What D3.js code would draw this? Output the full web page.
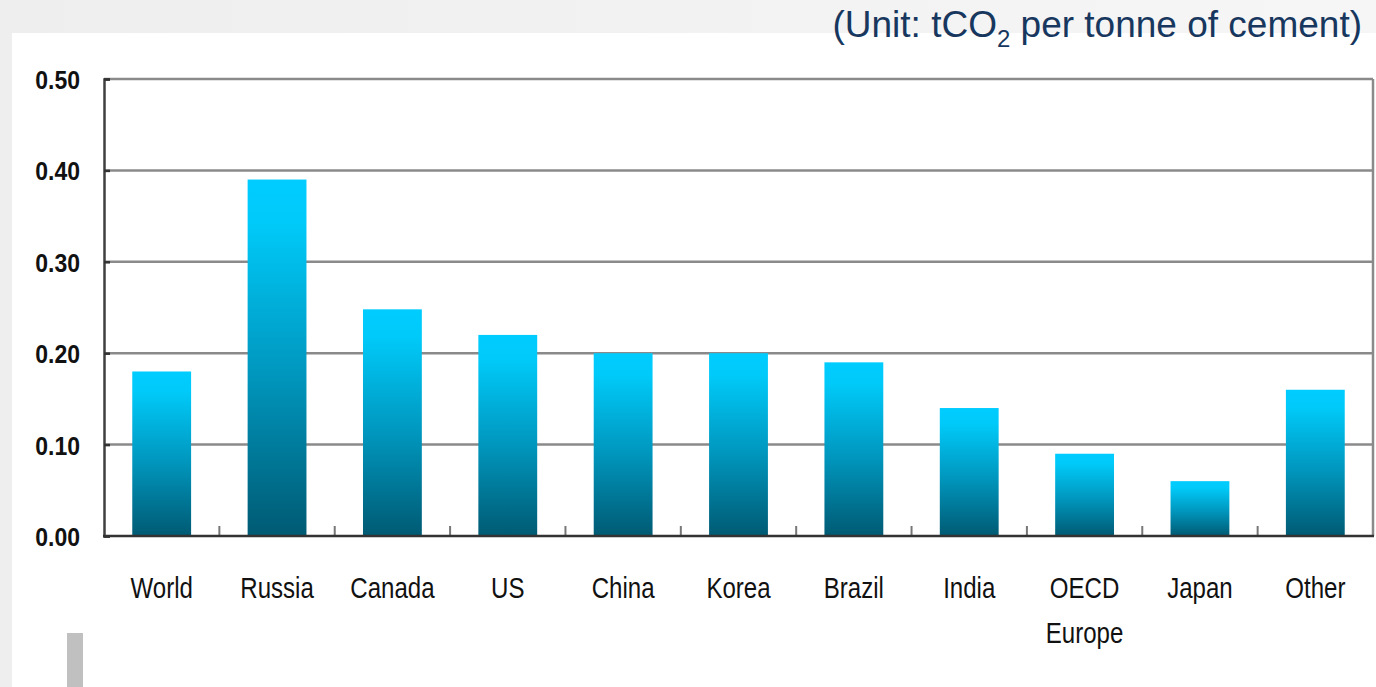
<!DOCTYPE html>
<html>
<head>
<meta charset="utf-8">
<script src="https://cdn.jsdelivr.net/npm/d3@7"></script>
<style>
  html, body { margin: 0; padding: 0; background: #fff; }
  svg { display: block; }
</style>
</head>
<body>
<svg width="1376" height="687"></svg>
<script>
let width = 1376, height = 687;

// data
let categories = ["World", "Russia", "Canada", "US", "China", "Korea", "Brazil", "India", "OECD\nEurope", "Japan", "Other"];
let values = [0.18, 0.39, 0.248, 0.22, 0.20, 0.20, 0.19, 0.14, 0.09, 0.06, 0.16];
let yTicks = [0, 0.1, 0.2, 0.3, 0.4, 0.5];

let plot = { left: 104, right: 1373, top: 79, bottom: 536 };
let sans = "'Liberation Sans', Arial, sans-serif";

let svg = d3.select("svg");
let defs = svg.append("defs");

let bg = defs.append("linearGradient").attr("id", "bg").attr("x1", 0).attr("x2", 1).attr("y1", 0).attr("y2", 0);
bg.append("stop").attr("offset", 0).attr("stop-color", "#eeeeee");
bg.append("stop").attr("offset", 1).attr("stop-color", "#f6f6f6");

let bar = defs.append("linearGradient").attr("id", "bar").attr("x1", 0).attr("x2", 0).attr("y1", 0).attr("y2", 1);
bar.append("stop").attr("offset", 0).attr("stop-color", "#00ccff");
bar.append("stop").attr("offset", 0.12).attr("stop-color", "#00caf9");
bar.append("stop").attr("offset", 0.55).attr("stop-color", "#0096bd");
bar.append("stop").attr("offset", 1).attr("stop-color", "#005a73");

// page background
svg.append("rect").attr("width", width).attr("height", height).attr("fill", "url(#bg)");
svg.append("rect").attr("x", 12).attr("y", 33).attr("width", width - 12).attr("height", height - 33).attr("fill", "#fff");
svg.append("rect").attr("x", 67).attr("y", 633).attr("width", 16).attr("height", 54).attr("fill", "#c0c0c0");

let x = d3.scaleBand()
  .domain(categories)
  .range([plot.left, plot.right])
  .paddingInner(0.49)
  .paddingOuter(0.245);

let y = d3.scaleLinear().domain([0, 0.5]).range([plot.bottom, plot.top]);

// grid lines
svg.append("g")
  .selectAll("line")
  .data(yTicks.filter(d => d > 0))
  .join("line")
  .attr("x1", plot.left).attr("x2", plot.right)
  .attr("y1", d => y(d)).attr("y2", d => y(d))
  .attr("stroke", "#8a8a8a")
  .attr("stroke-width", 2.5);

// right border
svg.append("line")
  .attr("x1", plot.right).attr("x2", plot.right)
  .attr("y1", plot.top).attr("y2", plot.bottom)
  .attr("stroke", "#8a8a8a").attr("stroke-width", 2.5);

// bars
svg.append("g")
  .selectAll("rect")
  .data(values)
  .join("rect")
  .attr("x", (d, i) => x(categories[i]))
  .attr("width", x.bandwidth())
  .attr("y", d => y(d))
  .attr("height", d => y(0) - y(d))
  .attr("fill", "url(#bar)");

// y axis
let yAxis = svg.append("g")
  .attr("transform", `translate(${plot.left},0)`)
  .call(d3.axisLeft(y).tickValues(yTicks).tickFormat(d3.format(".2f")).tickSize(-6).tickPadding(0));
yAxis.select(".domain").attr("stroke", "#404040").attr("stroke-width", 2.5);
yAxis.selectAll(".tick line").attr("stroke", "#333").attr("stroke-width", 2.5);
yAxis.selectAll(".tick text")
  .attr("x", 0)
  .attr("transform", "translate(-24,0) scale(0.92,1)")
  .attr("font-family", sans)
  .attr("font-weight", "bold")
  .attr("font-size", 25)
  .attr("fill", "#111")
  .attr("dy", "0.38em");

// x axis baseline and boundary ticks
let step = x.step();
svg.append("g")
  .selectAll("line")
  .data(d3.range(1, categories.length))
  .join("line")
  .attr("x1", i => plot.left + i * step).attr("x2", i => plot.left + i * step)
  .attr("y1", plot.bottom).attr("y2", plot.bottom - 10)
  .attr("stroke", "#777").attr("stroke-width", 2);

svg.append("line")
  .attr("x1", plot.left - 1).attr("x2", plot.right + 1)
  .attr("y1", plot.bottom).attr("y2", plot.bottom)
  .attr("stroke", "#333").attr("stroke-width", 2.5);

// category labels (condensed like Arial Narrow)
svg.append("g")
  .selectAll("text")
  .data(categories)
  .join("text")
  .attr("transform", d => `translate(${x(d) + x.bandwidth() / 2},598) scale(0.83,1)`)
  .attr("text-anchor", "middle")
  .attr("font-family", sans)
  .attr("font-size", 29)
  .attr("fill", "#111")
  .each(function (d) {
    let t = d3.select(this);
    d.split("\n").forEach((line, k) => {
      t.append("tspan")
        .attr("x", 0)
        .attr("y", k * 45)
        .text(line);
    });
  });

// unit note
let unit = svg.append("text")
  .attr("x", 1362).attr("y", 37)
  .attr("text-anchor", "end")
  .attr("font-family", sans)
  .attr("font-size", 37)
  .attr("fill", "#17375e");
unit.append("tspan").text("(Unit: tCO");
unit.append("tspan").attr("font-size", 24).attr("dy", 10).text("2");
unit.append("tspan").attr("dy", -10).text(" per tonne of cement)");
</script>
</body>
</html>
